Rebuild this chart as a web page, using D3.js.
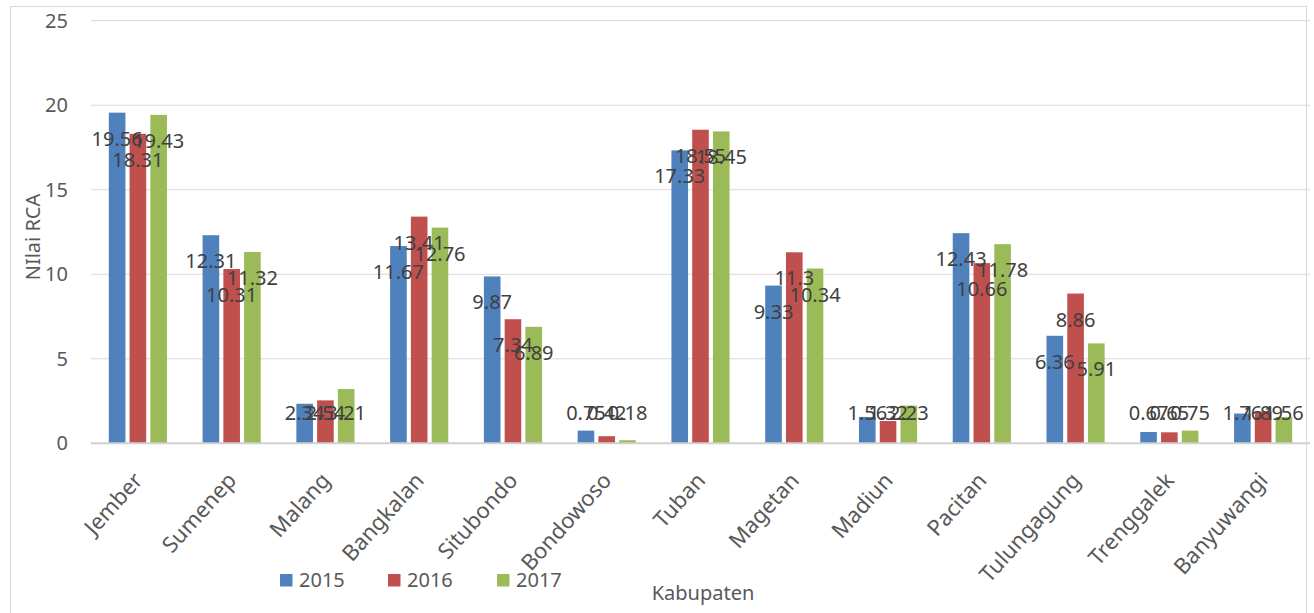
<!DOCTYPE html>
<html>
<head>
<meta charset="utf-8">
<script src="https://cdn.jsdelivr.net/npm/d3@7"></script>
<style>
  html, body { margin: 0; padding: 0; background: #ffffff; }
  svg { display: block; }
  text { font-family: "Noto Sans", "Open Sans", sans-serif; }
</style>
</head>
<body>
<svg id="chart" width="1314" height="613"></svg>
<script>
const categories = ["Jember", "Sumenep", "Malang", "Bangkalan", "Situbondo", "Bondowoso", "Tuban", "Magetan", "Madiun", "Pacitan", "Tulungagung", "Trenggalek", "Banyuwangi"];
const seriesNames = ["2015", "2016", "2017"];
const values2015 = [19.56, 12.31, 2.34, 11.67, 9.87, 0.75, 17.33, 9.33, 1.56, 12.43, 6.36, 0.67, 1.76];
const values2016 = [18.31, 10.31, 2.54, 13.41, 7.34, 0.42, 18.55, 11.3, 1.32, 10.66, 8.86, 0.65, 1.89];
const values2017 = [19.43, 11.32, 3.21, 12.76, 6.89, 0.18, 18.45, 10.34, 2.23, 11.78, 5.91, 0.75, 1.56];
const yTicks = [0, 5, 10, 15, 20, 25];
const colors = ["#4F81BD", "#C0504D", "#9BBB59"];

const seriesValues = [values2015, values2016, values2017];
const data = categories.map((c, i) => ({
  cat: c,
  vals: seriesNames.map((s, k) => ({ key: s, value: seriesValues[k][i], color: colors[k] }))
}));

const svg = d3.select("#chart");
const plotLeft = 91, plotRight = 1310, plotTop = 20.7, plotBottom = 443.3;

// chart border
svg.append("rect").attr("x", 10.5).attr("y", 6.5).attr("width", 1296).attr("height", 640)
  .attr("fill", "#ffffff").attr("stroke", "#d9d9d9").attr("stroke-width", 1);

const x0 = d3.scaleBand().domain(categories).range([plotLeft, plotRight]).paddingInner(0.38).paddingOuter(0.19);
const x1 = d3.scaleBand().domain(seriesNames).range([0, x0.bandwidth()]).paddingInner(0.2).paddingOuter(0);
const y = d3.scaleLinear().domain([0, 25]).range([plotBottom, plotTop]);

// gridlines
svg.append("g").selectAll("line").data(yTicks.filter(t => t > 0)).join("line")
  .attr("x1", plotLeft).attr("x2", plotRight)
  .attr("y1", d => y(d)).attr("y2", d => y(d))
  .attr("stroke", "#d9d9d9").attr("stroke-width", 1);

// y tick labels via axis
const yAxis = svg.append("g").attr("transform", `translate(${plotLeft},0)`)
  .call(d3.axisLeft(y).tickValues(yTicks).tickSize(0).tickPadding(23).tickFormat(d3.format("d")));
yAxis.select(".domain").remove();
yAxis.selectAll("text").attr("font-size", 20).attr("fill", "#595959")
  .attr("font-family", "'Noto Sans', 'Open Sans', sans-serif");

// bars
const groups = svg.append("g").selectAll("g").data(data).join("g")
  .attr("transform", d => `translate(${x0(d.cat)},0)`);
groups.selectAll("rect").data(d => d.vals).join("rect")
  .attr("x", d => x1(d.key))
  .attr("width", x1.bandwidth())
  .attr("y", d => y(d.value))
  .attr("height", d => y(0) - y(d.value))
  .attr("fill", d => d.color);

// baseline
svg.append("line").attr("x1", plotLeft).attr("x2", plotRight).attr("y1", y(0)).attr("y2", y(0))
  .attr("stroke", "#d0d0d0").attr("stroke-width", 2);

// data labels
groups.selectAll("text.lbl").data(d => d.vals).join("text")
  .attr("class", "lbl")
  .attr("x", d => x1(d.key) + x1.bandwidth() / 2)
  .attr("y", d => Math.min(y(d.value) + 26, y(0) - 30))
  .attr("dy", "0.35em")
  .attr("text-anchor", "middle")
  .attr("font-size", 20)
  .attr("fill", "#404040")
  .text(d => String(d.value));

// x axis labels
const xAxis = svg.append("g").attr("transform", `translate(0,${plotBottom})`)
  .call(d3.axisBottom(x0).tickSize(0).tickPadding(0));
xAxis.select(".domain").remove();
xAxis.selectAll("text")
  .attr("font-size", 22).attr("fill", "#595959")
  .attr("font-family", "'Noto Sans', 'Open Sans', sans-serif")
  .attr("text-anchor", "end")
  .attr("dy", null).attr("y", 0)
  .attr("transform", "translate(6,38) rotate(-48)");

// axis titles
svg.append("text").attr("transform", "translate(40,237) rotate(-90)")
  .attr("text-anchor", "middle").attr("font-size", 20).attr("fill", "#595959").text("NIlai RCA");
svg.append("text").attr("x", 703).attr("y", 600)
  .attr("text-anchor", "middle").attr("font-size", 20).attr("fill", "#595959").text("Kabupaten");

// legend
const legendX = [280, 388, 497];
const legend = svg.append("g").selectAll("g").data(seriesNames).join("g")
  .attr("transform", (d, i) => `translate(${legendX[i]},574)`);
legend.append("rect").attr("width", 12.5).attr("height", 12.5).attr("fill", (d, i) => colors[i]);
legend.append("text").attr("x", 19).attr("y", 12.5).attr("font-size", 20).attr("fill", "#595959").text(d => d);
</script>
</body>
</html>
